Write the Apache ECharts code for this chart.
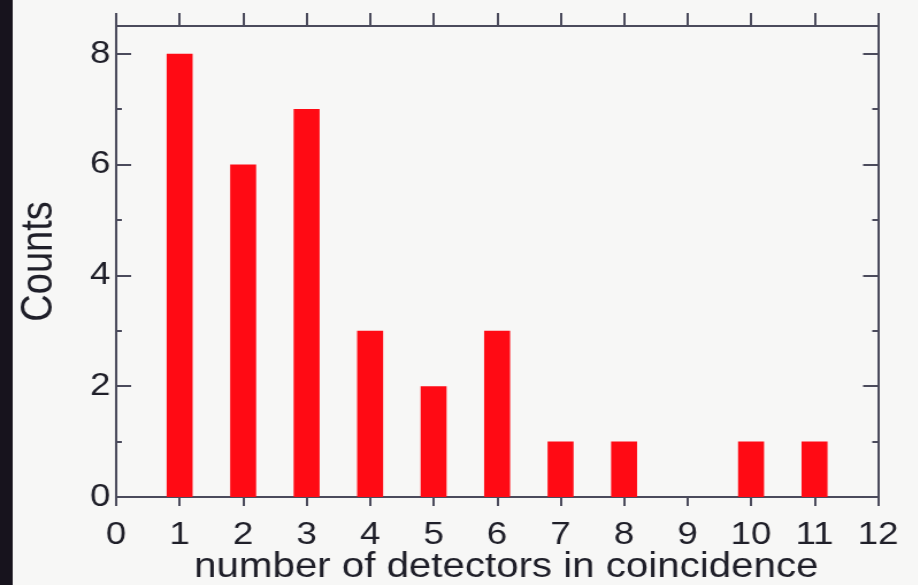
<!DOCTYPE html>
<html>
<head>
<meta charset="utf-8">
<script src="https://cdn.jsdelivr.net/npm/echarts@6/dist/echarts.min.js"></script>
<style>
  html, body { margin: 0; padding: 0; background: #f7f7f6; overflow: hidden; }
  /* the plot is drawn on a narrower canvas and widened to the frame's aspect */
  #chart { width: 798px; height: 585px; transform: scaleX(1.15); transform-origin: 0 0; }
</style>
</head>
<body>
<div id="chart"></div>
<script>
// number of detectors firing together, and how many events had that many
const detectorCounts = [1, 2, 3, 4, 5, 6, 7, 8, 9, 10, 11];
const counts = [8, 6, 7, 3, 2, 3, 1, 1, 0, 1, 1];

const xTickLabels = ['0', '1', '2', '3', '4', '5', '6', '7', '8', '9', '10', '11', '12'];
const yTickLabels = ['0', '2', '4', '6', '8'];

const axisColor = '#4b4b5c';
const textColor = '#1f1f29';
const fontFamily = '"Liberation Sans", Arial, Helvetica, sans-serif';

const chart = echarts.init(document.getElementById('chart'));

const lineStyle = { color: axisColor, width: 2 };

function frameAxis(extra) {
  return Object.assign({
    type: 'value',
    axisLine: { show: true, onZero: false, lineStyle },
    splitLine: { show: false },
    axisLabel: { show: false },
    axisTick: { show: true, lineStyle }
  }, extra);
}

const xMin = 0, xMax = xTickLabels.length - 1;
const yMax = 8.5;

chart.setOption({
  backgroundColor: '#f7f7f6',
  animation: false,
  graphic: [{
    type: 'rect',
    left: 0, top: 0,
    shape: { width: 11, height: 585 },
    style: { fill: '#17131d' },
    z: 100
  }],
  grid: {
    left: 101, right: 34.5, top: 26, bottom: 88,
    containLabel: false, outerBoundsMode: 'none'
  },
  xAxis: [
    frameAxis({
      position: 'bottom', min: xMin, max: xMax, interval: 1,
      axisTick: { show: true, inside: false, length: 9, lineStyle },
      axisLabel: {
        show: true, margin: 22, fontSize: 32, color: textColor, fontFamily,
        formatter: v => xTickLabels[v] ?? ''
      },
      name: 'number of detectors in coincidence',
      nameLocation: 'middle',
      nameGap: 53,
      nameMoveOverlap: false,
      nameTextStyle: { fontSize: 35, color: textColor, fontFamily, padding: [0, 0, 0, 16] }
    }),
    frameAxis({
      position: 'top', min: xMin, max: xMax, interval: 1,
      axisTick: { show: true, inside: false, length: 13, lineStyle }
    })
  ],
  yAxis: [
    frameAxis({
      position: 'left', offset: 0, min: 0, max: yMax, interval: 2,
      axisTick: { show: true, inside: true, length: 13, lineStyle },
      axisLabel: {
        show: true, margin: 5, fontSize: 32, color: textColor, fontFamily,
        formatter: v => yTickLabels.includes(String(v)) ? String(v) : ''
      },
      name: 'Counts',
      nameLocation: 'middle',
      nameGap: 47,
      nameMoveOverlap: false,
      nameTextStyle: { fontSize: 38, color: textColor, fontFamily }
    }),
    frameAxis({
      position: 'left', offset: 0, min: 0, max: yMax, interval: 1,
      axisTick: { show: true, inside: true, length: 5, lineStyle }
    }),
    frameAxis({
      position: 'right', offset: 0, min: 0, max: yMax, interval: 2,
      axisTick: { show: true, inside: true, length: 13, lineStyle }
    }),
    frameAxis({
      position: 'right', offset: 0, min: 0, max: yMax, interval: 1,
      axisTick: { show: true, inside: true, length: 5, lineStyle }
    })
  ],
  series: [{
    type: 'bar',
    xAxisIndex: 0,
    yAxisIndex: 0,
    barWidth: 22.6,
    itemStyle: { color: '#ff0a14' },
    data: detectorCounts.map((d, i) => [d, counts[i]])
  }]
});
</script>
</body>
</html>
